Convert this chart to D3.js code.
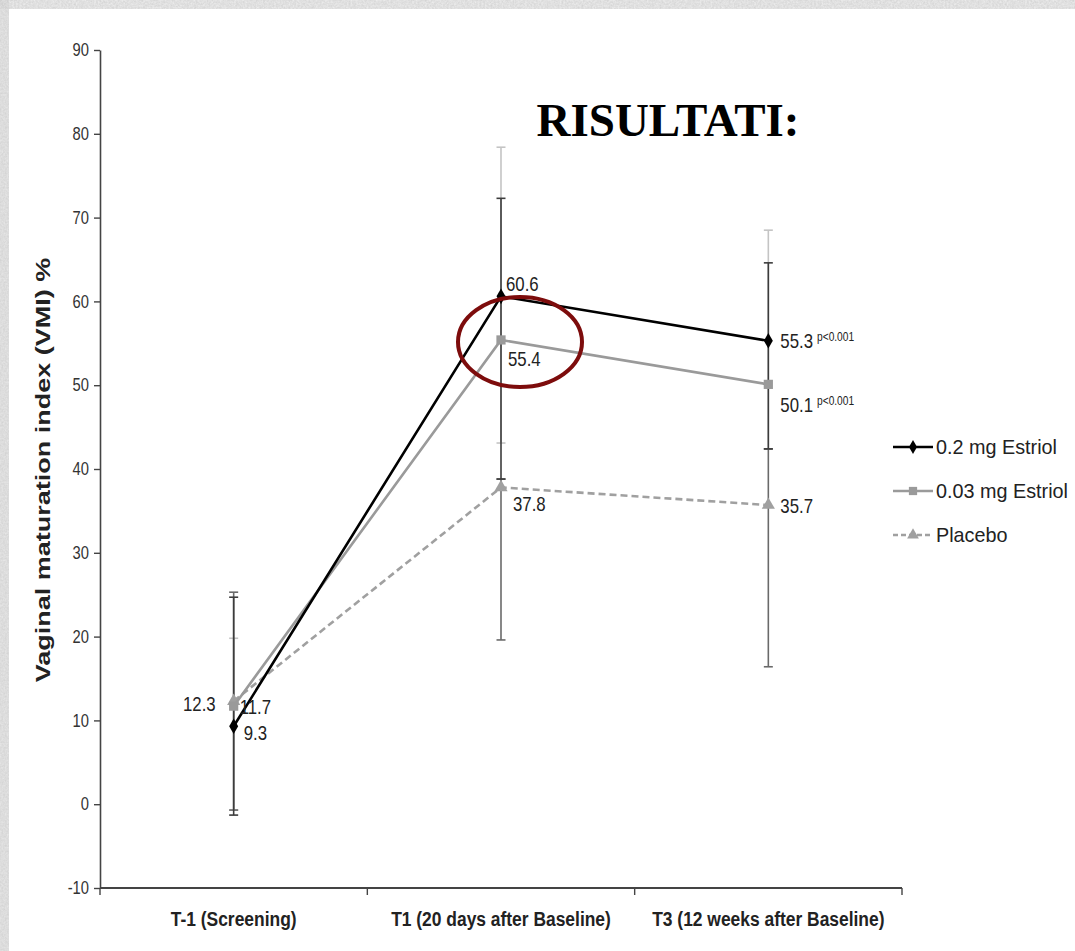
<!DOCTYPE html>
<html>
<head>
<meta charset="utf-8">
<script src="https://cdn.jsdelivr.net/npm/d3@7"></script>
<style>
  html, body { margin: 0; padding: 0; background: #fff; }
  svg { display: block; }
</style>
</head>
<body>
<svg id="chart" width="1075" height="951"></svg>
<script>
// ---- data ----
const categories = ["T-1 (Screening)", "T1 (20 days after Baseline)", "T3 (12 weeks after Baseline)"];
const seriesNames = ["0.2 mg Estriol", "0.03 mg Estriol", "Placebo"];
const estriol02 = [9.3, 60.6, 55.3];
const estriol003 = [11.7, 55.4, 50.1];
const placebo = [12.3, 37.8, 35.7];
// error bar ends (upper / lower) for each time point
const estriol02Hi = [24.7, 72.3, 64.6];
const estriol02Lo = [-1.3, 38.8, 42.4];
const estriol003Hi = [19.8, 78.4, 68.5];
const estriol003Lo = [-0.7, 43.1, 42.4];
const placeboHi = [25.3, 38.8, 42.4];
const placeboLo = [-0.7, 19.6, 16.4];
const pValues02 = [null, null, "p<0.001"];
const pValues003 = [null, null, "p<0.001"];
const pValuesPlacebo = [null, null, null];
const yTicks = [-10, 0, 10, 20, 30, 40, 50, 60, 70, 80, 90];
const titleText = "RISULTATI:";
const yTitle = "Vaginal maturation index (VMI) %";

// ---- layout ----
const svg = d3.select("#chart");
const W = 1075, H = 951;
const plot = { left: 100, right: 902, top: 50, bottom: 888 };

const x = d3.scaleBand().domain(categories).range([plot.left, plot.right]).padding(0);
const cx = c => x(c) + x.bandwidth() / 2;
const y = d3.scaleLinear().domain([-10, 90]).range([plot.bottom, plot.top]);

// textured frame strip along top and left
const defs = svg.append("defs");
const f = defs.append("filter").attr("id", "grain").attr("x", 0).attr("y", 0).attr("width", 1).attr("height", 1);
f.append("feTurbulence").attr("type", "fractalNoise").attr("baseFrequency", 0.55).attr("numOctaves", 2).attr("seed", 4).attr("result", "n");
f.append("feColorMatrix").attr("in", "n").attr("type", "matrix")
  .attr("values", "0 0 0 0 0.62  0 0 0 0 0.62  0 0 0 0 0.62  0 0 0 -1.1 0.95").attr("result", "c");
f.append("feComposite").attr("in", "c").attr("in2", "SourceGraphic").attr("operator", "in");
const frame = svg.append("g");
frame.append("rect").attr("x", 0).attr("y", 0).attr("width", W).attr("height", 9).attr("fill", "#ececec");
frame.append("rect").attr("x", 0).attr("y", 0).attr("width", 9).attr("height", H).attr("fill", "#e6e6e6");
frame.append("rect").attr("x", 0).attr("y", 0).attr("width", W).attr("height", 9).attr("fill", "#fff").attr("filter", "url(#grain)");
frame.append("rect").attr("x", 0).attr("y", 0).attr("width", 9).attr("height", H).attr("fill", "#fff").attr("filter", "url(#grain)");

// text helper: places text with a local scale so glyph proportions can be tuned
function txt(parent, px, py, str, o) {
  o = o || {};
  const sx = o.sx || 1, sy = o.sy || 1;
  return parent.append("text")
    .attr("transform", `translate(${px},${py})` + (o.rotate ? ` rotate(${o.rotate})` : "") + ` scale(${sx},${sy})`)
    .attr("text-anchor", o.anchor || "start")
    .attr("font-family", o.family || "'Liberation Sans', Arial, sans-serif")
    .attr("font-size", o.size || 16)
    .attr("font-weight", o.weight || "normal")
    .attr("fill", o.fill || "#222")
    .text(str);
}

// ---- axes ----
const yAxis = svg.append("g").attr("transform", `translate(${plot.left},0)`)
  .call(d3.axisLeft(y).tickValues(yTicks).tickSize(6).tickSizeOuter(0).tickFormat(d => String(d)));
yAxis.select(".domain").attr("stroke", "#444").attr("stroke-width", 1.6);
yAxis.selectAll(".tick line").attr("stroke", "#444").attr("stroke-width", 1.4);
const tickSx = 0.82;
yAxis.selectAll(".tick text")
  .attr("font-family", "'Liberation Sans', Arial, sans-serif")
  .attr("font-size", 18).attr("fill", "#333")
  .attr("x", -11 / tickSx).attr("transform", `scale(${tickSx},1)`);

const xAxisG = svg.append("g").attr("transform", `translate(0,${plot.bottom})`);
xAxisG.append("line").attr("x1", plot.left).attr("x2", plot.right).attr("y1", 0).attr("y2", 0)
  .attr("stroke", "#444").attr("stroke-width", 2.2);
const bounds = categories.map(c => x(c)).concat([x.range()[1]]);
xAxisG.selectAll("line.bt").data(bounds).join("line").attr("class", "bt")
  .attr("x1", d => d).attr("x2", d => d).attr("y1", 0).attr("y2", 7)
  .attr("stroke", "#444").attr("stroke-width", 1.4);
categories.forEach(c => {
  txt(xAxisG, cx(c), 38, c, { anchor: "middle", size: 21, weight: "bold", sx: 0.83, fill: "#222" });
});

txt(svg, 50, 470, yTitle, { anchor: "middle", size: 20, weight: "bold", rotate: -90, sx: 1.35, fill: "#222" });

// ---- series ----
const series = [
  { name: seriesNames[0], values: estriol02, hi: estriol02Hi, lo: estriol02Lo, p: pValues02,
    color: "#000", errColor: "#3c3c3c", dash: null, symbol: d3.symbolDiamond, symSize: 70 },
  { name: seriesNames[1], values: estriol003, hi: estriol003Hi, lo: estriol003Lo, p: pValues003,
    color: "#9a9a9a", errColor: "#c4c4c4", dash: null, symbol: d3.symbolSquare, symSize: 85 },
  { name: seriesNames[2], values: placebo, hi: placeboHi, lo: placeboLo, p: pValuesPlacebo,
    color: "#a0a0a0", errColor: "#6a6a6a", dash: "7,4", symbol: d3.symbolTriangle, symSize: 75 }
];

// error bars (light series first so the darker ones sit on top)
const errG = svg.append("g");
[series[1], series[2], series[0]].forEach(s => {
  categories.forEach((c, i) => {
    const xx = cx(c);
    errG.append("line").attr("x1", xx).attr("x2", xx).attr("y1", y(s.hi[i])).attr("y2", y(s.lo[i]))
      .attr("stroke", s.errColor).attr("stroke-width", 1.6);
    [s.hi[i], s.lo[i]].forEach(v => {
      errG.append("line").attr("x1", xx - 4.5).attr("x2", xx + 4.5).attr("y1", y(v)).attr("y2", y(v))
        .attr("stroke", s.errColor).attr("stroke-width", 1.6);
    });
  });
});

const line = d3.line().x((d, i) => cx(categories[i])).y(d => y(d));
const lineG = svg.append("g");
[series[2], series[1], series[0]].forEach(s => {
  lineG.append("path").datum(s.values).attr("d", line)
    .attr("fill", "none").attr("stroke", s.color).attr("stroke-width", 2.6)
    .attr("stroke-dasharray", s.dash);
  lineG.selectAll(null).data(s.values).join("path")
    .attr("d", d3.symbol().type(s.symbol).size(s.symSize))
    .attr("transform", (d, i) => `translate(${cx(categories[i])},${y(d)})`)
    .attr("fill", s.color);
});

// value labels: offsets per series and time point
const labelOffsets = [
  [[10, 14, "start"], [5, -5, "start"], [12, 7, "start"]],
  [[6, 8, "start"], [7, 26, "start"], [12, 28, "start"]],
  [[-18, 10, "end"], [12, 24, "start"], [12, 8, "start"]]
];
const labG = svg.append("g");
const labSx = 0.84;
series.forEach((s, si) => {
  s.values.forEach((v, i) => {
    const [dx, dy, anchor] = labelOffsets[si][i];
    const px = cx(categories[i]) + dx, py = y(v) + dy;
    const t = txt(labG, px, py, d3.format(".1f")(v), { anchor, size: 20, sx: labSx, fill: "#222" });
    if (s.p[i]) {
      const w = t.node().getComputedTextLength() * labSx;
      txt(labG, px + w + 4, py - 7, s.p[i], { size: 12, sx: 0.85, fill: "#222" });
    }
  });
});

// highlight ring around the T1 low-dose point
svg.append("ellipse")
  .attr("cx", cx(categories[1]) + 19).attr("cy", y(estriol003[1]) + 2)
  .attr("rx", 62).attr("ry", 45)
  .attr("fill", "none").attr("stroke", "#7d0c0c").attr("stroke-width", 4);

// legend
const legend = svg.append("g").attr("transform", "translate(893,447)");
series.forEach((s, i) => {
  const g = legend.append("g").attr("transform", `translate(0,${i * 44})`);
  g.append("line").attr("x1", 0).attr("x2", 40).attr("y1", 0).attr("y2", 0)
    .attr("stroke", s.color).attr("stroke-width", 2.4).attr("stroke-dasharray", s.dash ? "5,3" : null);
  g.append("path").attr("d", d3.symbol().type(s.symbol).size(s.symSize * 0.8))
    .attr("transform", "translate(20,0)").attr("fill", s.color);
  txt(g, 43, 7, s.name, { size: 20, sx: 0.99, fill: "#222" });
});

// title
txt(svg, 668, 136, titleText, { anchor: "middle", size: 47, weight: "bold", family: "'Liberation Serif', 'Times New Roman', serif", fill: "#000" });
</script>
</body>
</html>
